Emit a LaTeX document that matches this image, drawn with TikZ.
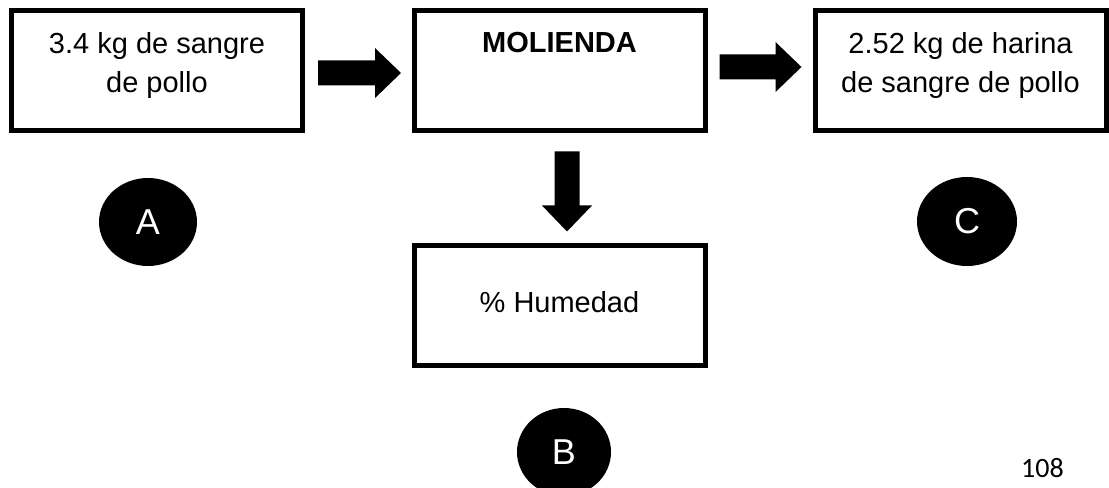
\documentclass[tikz,border=0pt]{standalone}
\usepackage{fontspec}
\setmainfont{Liberation Sans}
\newfontfamily\pagenumfont{Carlito}
\usetikzlibrary{shapes.geometric,calc}

\tikzset{
  stagebox/.style={draw=black, line width=5bp, rectangle, inner sep=0pt,
    minimum width=291bp, minimum height=120bp},
  tag/.style={ellipse, fill=black, text=white, inner sep=0pt,
    minimum width=98bp, minimum height=88bp,
    font=\fontsize{36bp}{36bp}\selectfont},
  pagenum/.style={anchor=base, font=\pagenumfont\fontsize{28bp}{28bp}\selectfont},
  % solid block arrow pointing along +x, #1 = total length
  pics/blockarrow/.style={code={
    \fill[black] (0,-12.5) -- (#1-26,-12.5) -- (#1-26,-25) -- (#1,0)
      -- (#1-26,25) -- (#1-26,12.5) -- (0,12.5) -- cycle;}}
}
% text block hung from the top of a stage box; #1 = first baseline depth
\newcommand{\boxtext}[2]{\parbox[c][120bp][t]{291bp}{\centering
  \fontsize{29bp}{39bp}\selectfont\rule{0pt}{#1}#2}}

\begin{document}
\begin{tikzpicture}[x=1bp,y=-1bp]
\useasboundingbox (0,0) rectangle (1109,488);

% process boxes
\node[stagebox] (b1) at (157,71) {\boxtext{43bp}{3.4 kg de sangre\\de pollo}};
\node[stagebox] (b2) at (559.5,71) {\boxtext{42bp}{\textbf{MOLIENDA}}};
\node[stagebox] (b3) at (960.5,71) {\boxtext{43bp}{2.52 kg de harina\\de sangre de pollo}};
\node[stagebox] (b4) at (559.5,305.5) {\boxtext{67.5bp}{\% Humedad}};

% stream labels
\node[tag] (A) at (148,222) {A};
\node[tag, minimum width=100bp, minimum height=89bp] (C) at (967,221.5) {C};
\node[tag, minimum width=94bp] (B) at (564,452) {B};

% block arrows between the boxes
\pic at ($(b1.east)+(13,2)$) {blockarrow=83};
\pic at ($(b2.east)+(12,-4)$) {blockarrow=82};
\pic[rotate=-90] at ($(b2.south)+(7.5,18)$) {blockarrow=80};

% page number
\node[pagenum] (pg) at (1042.5,477) {108};
\end{tikzpicture}
\end{document}
